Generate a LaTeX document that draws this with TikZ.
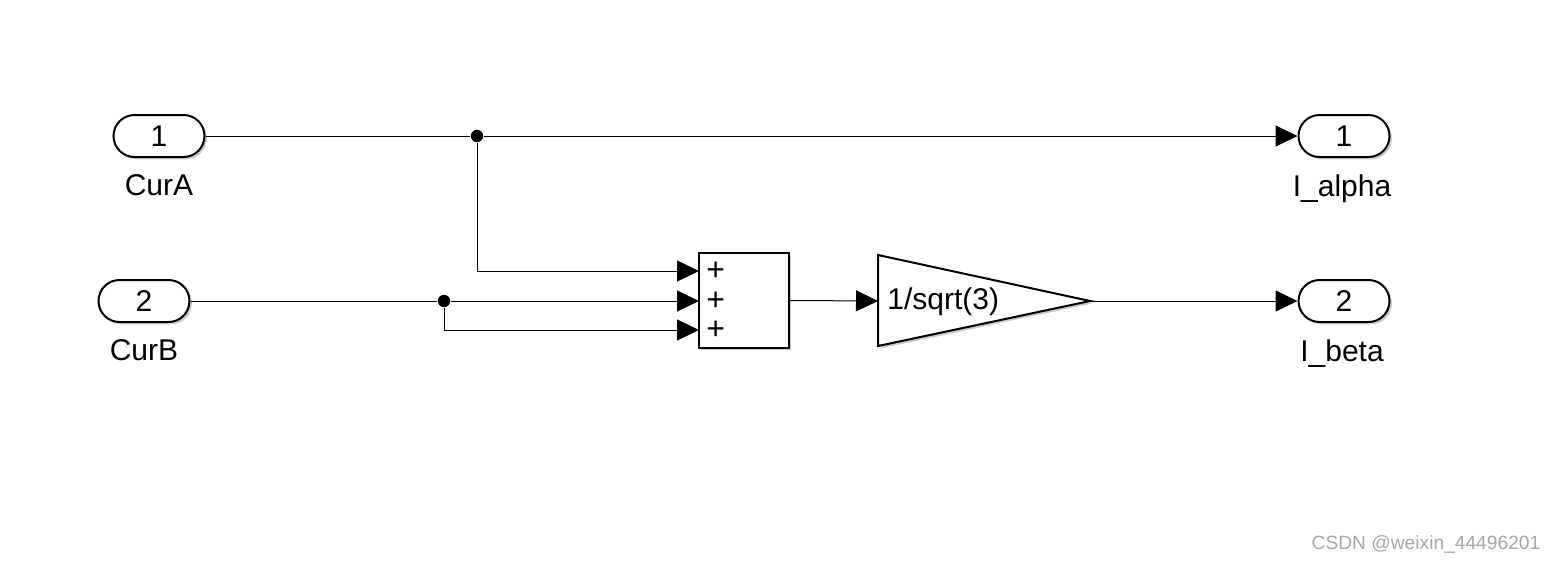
\documentclass[tikz,border=0pt]{standalone}
\usepackage{fontspec}
\setmainfont{Liberation Sans}
\usetikzlibrary{arrows.meta,positioning,shadows,calc}

\tikzset{
  blockshadow/.style={drop shadow={shadow xshift=1.2pt, shadow yshift=-1.2pt, opacity=0.35, fill=black!60}},
  port/.style={draw, line width=1pt, fill=white, rounded corners=10.5pt, minimum width=45.5pt,
    minimum height=21pt, inner sep=0pt, blockshadow},
  lbl/.style={inner sep=0pt},
  wire/.style={line width=0.5pt},
  sig/.style={wire, -{Triangle[length=11pt, width=10.5pt]}},
  junction/.style={fill, circle, inner sep=0pt, minimum size=6.2pt}
}

\begin{document}
\begin{tikzpicture}[x=0.5pt, y=-0.5pt, line cap=butt, line join=miter,
    font=\fontsize{15}{17}\selectfont]
    \useasboundingbox (0,0) rectangle (1557,563);

    % ports
    \node[port] (inA) at (159,136) {1};
    \node[port] (inB) at (144,301) {2};
    \node[port] (outA) at (1344,136) {1};
    \node[port] (outB) at (1344,301) {2};
    \node[lbl, below=8pt of inA] (inAlbl) {CurA};
    \node[lbl, below=8pt of inB] (inBlbl) {CurB};
    \node[lbl, below=8pt of outA, xshift=-1pt] (outAlbl) {I\_alpha};
    \node[lbl, below=8pt of outB, xshift=-1pt] (outBlbl) {I\_beta};

    % sum block
    \node[draw, line width=1pt, fill=white, minimum width=45pt, minimum height=47.5pt,
      inner sep=0pt, blockshadow] (sum) at (744,300.5) {};
    \coordinate (s1) at (699,271);
    \coordinate (s2) at (699,301);
    \coordinate (s3) at (699,330);
    \foreach \i in {1,2,3}
      \node[lbl, anchor=west, font=\fontsize{16}{18}\selectfont] (plus\i) at ($(s\i)+(7,0)$) {+};

    % gain
    \coordinate (gainIn) at (878,301);
    \coordinate (gainOut) at (1090,301);
    \path[draw, line width=1pt, fill=white, blockshadow]
      (878,255) -- (gainOut) -- (878,346) -- cycle;
    \node[lbl, anchor=west] (gaintxt) at (887,302) {1/sqrt(3)};

    % junctions
    \node[junction] (jA) at (477,136) {};
    \node[junction] (jB) at (444,301) {};

    % wires
    \draw[wire] (inA.east) -- (jA);
    \draw[sig] (jA) -- (outA.west);
    \draw[sig] (jA) |- (s1);
    \draw[wire] (inB.east) -- (jB);
    \draw[sig] (jB) -- (s2);
    \draw[sig] (jB) |- (s3);
    \draw[sig] (sum.east) -- (gainIn);
    \draw[sig] (gainOut) -- (outB.west);

    \node[lbl, text=black!35, font=\fontsize{9.6}{11}\selectfont] (mark) at (1426,544)
      {CSDN @weixin\_44496201};
\end{tikzpicture}
\end{document}
